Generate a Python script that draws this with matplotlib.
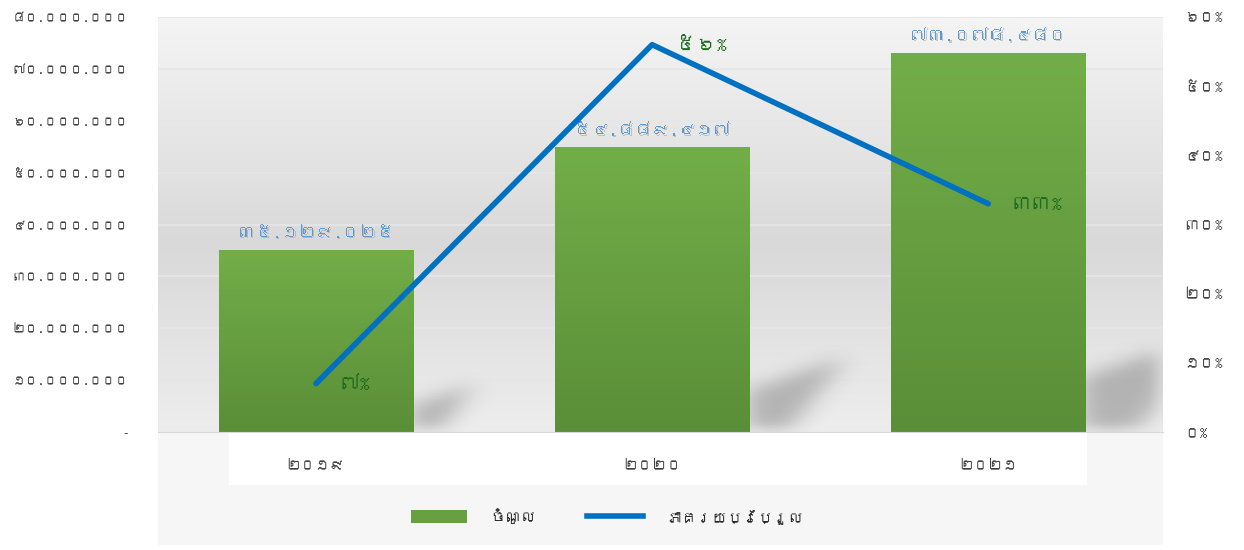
import numpy as np
import matplotlib
matplotlib.use("Agg")
import matplotlib.pyplot as plt
from matplotlib import font_manager
from matplotlib.ft2font import FT2Font
from matplotlib.path import Path
import matplotlib.patheffects as pe
from matplotlib.lines import Line2D
from matplotlib.patches import Patch, Rectangle

# ---------------- data ----------------
categories = ["២០១៩", "២០២០", "២០២១"]
revenue = [35129025, 54889417, 73078480]
growth = [0.07, 0.56, 0.33]
legend_labels = ["ចំណូល", "ភាគរយប្រែប្រួល"]
left_ticks = [0, 10e6, 20e6, 30e6, 40e6, 50e6, 60e6, 70e6, 80e6]
right_ticks = [0, 0.1, 0.2, 0.3, 0.4, 0.5, 0.6]

# ---------------- fonts ----------------
khmer_family = None
for f in font_manager.fontManager.ttflist:
    try:
        ft = FT2Font(f.fname)
        cm = ft.get_charmap()
        if 0x17E0 in cm and 0x1785 in cm:
            khmer_family = f.name
            break
    except Exception:
        pass
families = ([khmer_family] if khmer_family else []) + ["DejaVu Sans"]
plt.rcParams["font.family"] = families

KH_DIGITS = str.maketrans("0123456789", "០១២៣៤៥៦៧៨៩")


def kh_num(v):
    s = f"{int(round(v)):,}".replace(",", ".")
    return s.translate(KH_DIGITS)


def kh_pct(v):
    return f"{int(round(v * 100))}%".translate(KH_DIGITS)


# ---------------- figure ----------------
W, H = 1244, 550
fig = plt.figure(figsize=(W / 100, H / 100), dpi=100)
fig.patch.set_facecolor("white")

# light band below plot area
fig.patches.append(Rectangle((158 / W, 5 / H), (1163 - 158) / W, (432 - 5) / H,
                             transform=fig.transFigure, facecolor="#f6f6f6",
                             edgecolor="none", zorder=-5))
fig.patches.append(Rectangle((229 / W, (550 - 485) / H), (1087 - 229) / W, 53 / H,
                             transform=fig.transFigure, facecolor="white",
                             edgecolor="none", zorder=-4))

ax = fig.add_axes([158 / W, 1 - 432 / H, (1163 - 158) / W, (432 - 17) / H])
xlim = (-0.47, 2.52)
ylim = (0, 80e6)
ax.set_xlim(*xlim)
ax.set_ylim(*ylim)

# plot-area gradient background
stops_y = [0.0, 0.45, 1.0]
stops_c = [np.array([0xed, 0xed, 0xed]), np.array([0xd9, 0xd9, 0xd9]), np.array([0xf4, 0xf4, 0xf4])]
yy = np.linspace(0, 1, 256)
grad = np.zeros((256, 1, 3))
for ch in range(3):
    grad[:, 0, ch] = np.interp(yy, stops_y, [c[ch] for c in stops_c]) / 255.0
ax.imshow(grad, extent=[xlim[0], xlim[1], ylim[0], ylim[1]], origin="lower",
          aspect="auto", zorder=0, interpolation="bicubic")

# gridlines
for t in left_ticks[1:]:
    ax.axhline(t, color="#e6e6e6", lw=1.2, zorder=1)

# shadows (blurred)
x = np.arange(len(categories))
bw = 0.58
nx, ny = 700, 300
gx = np.linspace(xlim[0], xlim[1], nx)
gy = np.linspace(ylim[0], ylim[1], ny)
GX, GY = np.meshgrid(gx, gy)
pts = np.column_stack([GX.ravel(), GY.ravel()])
mask = np.zeros(GX.shape)
for xi, h in zip(x, revenue):
    xr = xi + bw / 2
    sh = 0.26 * h
    dx = h / 1e6 * 0.0052
    poly = Path([(xr - 0.01, 0), (xr - 0.01, 0.55 * sh), (xr + dx, sh), (xr + 0.4 * dx, 0)])
    mask = np.maximum(mask, poly.contains_points(pts).reshape(GX.shape).astype(float))


def box_blur(a, r, axis):
    k = np.ones(2 * r + 1) / (2 * r + 1)
    return np.apply_along_axis(lambda m: np.convolve(m, k, mode="same"), axis, a)


for _ in range(3):
    mask = box_blur(mask, 8, 1)
    mask = box_blur(mask, 5, 0)
shadow = np.zeros((ny, nx, 4))
shadow[..., 0:3] = 0.45
shadow[..., 3] = mask * 0.45
ax.imshow(shadow, extent=[xlim[0], xlim[1], ylim[0], ylim[1]], origin="lower",
          aspect="auto", zorder=1.5)

# bars with vertical gradient
bars = ax.bar(x, revenue, width=bw, color="#6aa843", zorder=2, edgecolor="none")
bg = np.linspace(0, 1, 256).reshape(-1, 1)
top_c = np.array([0x72, 0xae, 0x48]) / 255
bot_c = np.array([0x5a, 0x8e, 0x38]) / 255
bar_grad = bot_c[None, None, :] * (1 - bg[..., None]) + top_c[None, None, :] * bg[..., None]
for b in bars:
    im = ax.imshow(bar_grad, extent=[b.get_x(), b.get_x() + b.get_width(), 0, b.get_height()],
                   origin="lower", aspect="auto", zorder=2.1)
    im.set_clip_path(b)

# bar value labels
for xi, v in zip(x, revenue):
    ax.annotate(kh_num(v), (xi, v), xytext=(0, 7), textcoords="offset points",
                ha="center", va="bottom", fontsize=12.5, color="#5b9bd5", zorder=5,
                path_effects=[pe.withSimplePatchShadow(offset=(1, -1), shadow_rgbFace="#8a8a8a", alpha=0.4)])

ax.set_yticks(left_ticks)
ax.set_yticklabels(["-"] + [kh_num(t) for t in left_ticks[1:]])
ax.set_xticks(x)
ax.set_xticklabels(categories)
ax.tick_params(axis="y", length=0, pad=21, labelsize=9.3, labelcolor="#404040")
ax.tick_params(axis="x", length=0, pad=20, labelsize=10.5, labelcolor="#404040")
for s in ["top", "left", "right"]:
    ax.spines[s].set_visible(False)
ax.spines["bottom"].set_color("#d9d9d9")

# line on secondary axis
ax2 = ax.twinx()
ax2.set_ylim(0, 0.6)
ax2.plot(x, growth, color="#0070c0", lw=4, solid_capstyle="round", zorder=6)
for xi, g in zip(x, growth):
    ax2.annotate(kh_pct(g), (xi, g), xytext=(17, 0), textcoords="offset points",
                 ha="left", va="center", fontsize=14.5, color="#1e6b1e", zorder=7)
ax2.set_yticks(right_ticks)
ax2.set_yticklabels([kh_pct(t) for t in right_ticks])
ax2.tick_params(axis="y", length=0, pad=15, labelsize=11, labelcolor="#404040")
for s in ["top", "left", "right", "bottom"]:
    ax2.spines[s].set_visible(False)

# legend
handles = [Patch(facecolor="#66a040", edgecolor="none"),
           Line2D([0], [0], color="#0070c0", lw=4)]
fig.legend(handles, legend_labels, loc="center", bbox_to_anchor=(0.488, 1 - 516 / H),
           ncol=2, frameon=False, fontsize=11, handlelength=3.7, handleheight=0.9,
           handletextpad=1.5, columnspacing=3.3, labelcolor="#262626")

fig.savefig("out.png", dpi=100)
